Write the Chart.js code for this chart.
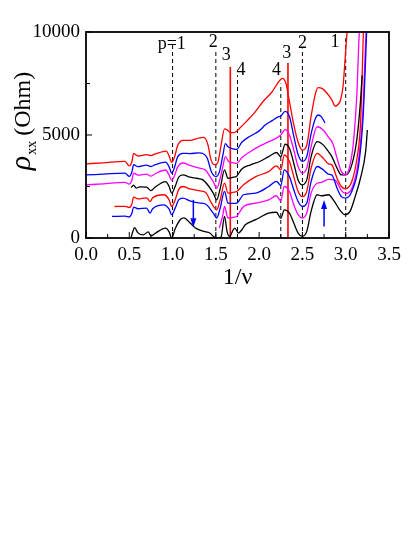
<!DOCTYPE html>
<html>
<head>
<meta charset="utf-8">
<script src="https://cdn.jsdelivr.net/npm/chart.js@4.4.1/dist/chart.umd.min.js"></script>
<style>
  html, body { margin: 0; padding: 0; background: #fff; }
  canvas { display: block; }
</style>
</head>
<body>
<canvas id="chart" width="415" height="537"></canvas>
<script>
// Curves: [1/nu, rho_xx (Ohm)]
const red1 = [[0, 3600], [0.2, 3650], [0.45, 3720], [0.5, 3500], [0.53, 3700], [0.55, 4100], [0.6, 3980], [0.7, 4050], [0.75, 4000], [0.8, 4080], [0.93, 4220], [0.96, 3980], [0.99, 3680], [1.02, 3900], [1.06, 4500], [1.12, 4740], [1.2, 4740], [1.3, 4850], [1.36, 4880], [1.41, 4500], [1.44, 3850], [1.48, 3560], [1.52, 3640], [1.56, 4500], [1.6, 5300], [1.63, 5250], [1.67, 5120], [1.72, 5130], [1.78, 5350], [1.85, 5650], [1.95, 6100], [2.05, 6650], [2.15, 7100], [2.22, 7550], [2.27, 7750], [2.31, 7500], [2.34, 6850], [2.4, 5500], [2.45, 4650], [2.5, 4270], [2.55, 4500], [2.6, 5900], [2.65, 7000], [2.68, 7300], [2.73, 7250], [2.78, 7050], [2.84, 6700], [2.88, 6400], [2.91, 6480], [2.94, 6700], [2.97, 7400], [2.99, 8500], [3.01, 9700], [3.04, 11000]];
const blue1 = [[0, 3060], [0.2, 3100], [0.45, 3150], [0.5, 2990], [0.53, 3200], [0.55, 3560], [0.6, 3460], [0.7, 3540], [0.75, 3470], [0.8, 3560], [0.92, 3680], [0.96, 3450], [0.99, 3150], [1.02, 3400], [1.06, 3950], [1.12, 4110], [1.2, 4100], [1.3, 4130], [1.36, 4080], [1.4, 3880], [1.45, 3200], [1.5, 2980], [1.54, 3200], [1.58, 4000], [1.61, 4580], [1.64, 4430], [1.7, 4330], [1.74, 4300], [1.8, 4650], [1.9, 4950], [2.0, 5200], [2.07, 5480], [2.15, 5700], [2.22, 5880], [2.25, 5920], [2.3, 6150], [2.35, 5900], [2.4, 4950], [2.45, 4050], [2.5, 3720], [2.55, 3950], [2.6, 5050], [2.65, 5800], [2.68, 5970], [2.72, 5880], [2.76, 5580]];
const magenta1 = [[0, 2580], [0.2, 2630], [0.45, 2700], [0.5, 2620], [0.53, 2800], [0.55, 3150], [0.6, 3050], [0.7, 3100], [0.75, 3000], [0.8, 3120], [0.92, 3300], [0.96, 3050], [0.99, 2800], [1.02, 3000], [1.06, 3450], [1.12, 3640], [1.2, 3520], [1.3, 3400], [1.38, 3300], [1.43, 3000], [1.47, 2740], [1.51, 2420], [1.55, 2900], [1.58, 3450], [1.61, 3950], [1.65, 3700], [1.7, 3650], [1.74, 3620], [1.8, 3900], [1.9, 4200], [2.0, 4450], [2.1, 4650], [2.2, 4850], [2.25, 5000], [2.3, 5260], [2.35, 5000], [2.4, 4270], [2.45, 3470], [2.5, 3150], [2.55, 3390], [2.6, 4430], [2.67, 5400], [2.74, 5240], [2.8, 4900], [2.85, 4600], [2.9, 3870], [2.95, 3220], [3.0, 3060], [3.05, 3550], [3.09, 4680], [3.13, 7100], [3.15, 9360], [3.17, 11000]];
const black1 = [[0.52, 2450], [0.55, 2560], [0.58, 2420], [0.62, 2480], [0.7, 2470], [0.75, 2300], [0.8, 2480], [0.92, 2740], [0.96, 2500], [0.99, 2180], [1.03, 2500], [1.07, 2950], [1.12, 3060], [1.2, 2950], [1.28, 2900], [1.35, 2820], [1.42, 2500], [1.47, 2180], [1.51, 1850], [1.55, 2400], [1.6, 3310], [1.64, 2900], [1.7, 2950], [1.74, 3000], [1.8, 3350], [1.9, 3550], [2.0, 3700], [2.11, 3950], [2.2, 4150], [2.25, 3950], [2.3, 4550], [2.35, 4360], [2.4, 3630], [2.45, 2820], [2.5, 2580], [2.55, 2820], [2.6, 3950], [2.67, 4680], [2.74, 4520], [2.8, 4200], [2.84, 3950], [2.9, 3390], [2.95, 3060], [3.0, 3060], [3.07, 3550], [3.13, 4840], [3.17, 6610], [3.19, 7900]];
const red2 = [[0.33, 1530], [0.45, 1540], [0.5, 1480], [0.53, 1650], [0.55, 1980], [0.6, 1900], [0.7, 1950], [0.74, 1770], [0.77, 1950], [0.9, 2100], [0.96, 1850], [0.99, 1530], [1.03, 1850], [1.07, 2350], [1.12, 2500], [1.2, 2380], [1.3, 2300], [1.38, 2220], [1.45, 1690], [1.51, 1370], [1.55, 1850], [1.6, 2660], [1.64, 2180], [1.7, 2220], [1.74, 2260], [1.82, 2580], [1.96, 2980], [2.11, 3220], [2.2, 3500], [2.25, 3300], [2.29, 4030], [2.35, 3710], [2.4, 2980], [2.45, 2260], [2.5, 2010], [2.55, 2260], [2.6, 3390], [2.67, 4110], [2.74, 3870], [2.8, 3600], [2.84, 3550], [2.9, 2900], [2.95, 2500], [3.0, 2390], [3.07, 2740], [3.13, 3870], [3.17, 5480], [3.19, 7900], [3.21, 11000]];
const blue2 = [[0.3, 1050], [0.45, 1060], [0.5, 1020], [0.53, 1200], [0.55, 1500], [0.6, 1420], [0.7, 1450], [0.74, 1210], [0.77, 1420], [0.9, 1610], [0.96, 1400], [0.99, 1130], [1.03, 1450], [1.07, 1850], [1.12, 1940], [1.2, 1800], [1.3, 1700], [1.38, 1650], [1.47, 1210], [1.51, 970], [1.55, 1450], [1.6, 2260], [1.64, 1690], [1.7, 1680], [1.74, 1690], [1.82, 2100], [1.96, 2180], [2.11, 2500], [2.2, 2750], [2.25, 2550], [2.29, 3310], [2.35, 2980], [2.4, 2340], [2.45, 1770], [2.5, 1530], [2.55, 1690], [2.6, 2740], [2.67, 3470], [2.74, 3310], [2.8, 3100], [2.84, 3060], [2.9, 2420], [2.95, 2010], [3.0, 1940], [3.07, 2260], [3.15, 3550], [3.2, 5810], [3.23, 8710], [3.25, 11000]];
const magenta2 = [[1.54, 480], [1.58, 1100], [1.6, 1530], [1.64, 970], [1.7, 1000], [1.74, 1050], [1.82, 1530], [1.96, 1690], [2.11, 1850], [2.2, 2050], [2.25, 1800], [2.29, 2500], [2.35, 2260], [2.4, 1610], [2.45, 1130], [2.5, 970], [2.55, 1210], [2.6, 2180], [2.67, 2660], [2.72, 2700], [2.8, 2850], [2.88, 2800], [2.95, 2300], [3.0, 2150], [3.08, 2500], [3.15, 3870], [3.2, 6290], [3.23, 9520], [3.25, 11000]];
const black2 = [[0.52, 0], [0.54, 300], [0.56, 500], [0.6, 250], [0.66, 150], [0.72, 300], [0.75, 100], [0.8, 230], [0.92, 480], [0.96, 300], [0.99, 0], [1.03, 450], [1.09, 900], [1.13, 980], [1.2, 740], [1.26, 500], [1.36, 320], [1.43, 240], [1.47, 80], [1.5, 0], [1.56, 50], [1.6, 1050], [1.63, 300], [1.66, 80], [1.7, 400], [1.72, 480], [1.76, 240], [1.8, 400], [1.84, 640], [1.96, 890], [2.11, 1210], [2.2, 1250], [2.25, 950], [2.29, 1370], [2.35, 1210], [2.4, 730], [2.45, 240], [2.5, 80], [2.55, 320], [2.6, 1290], [2.67, 2100], [2.72, 2050], [2.8, 2100], [2.87, 1770], [2.93, 1370], [2.99, 1130], [3.05, 1290], [3.11, 2020], [3.17, 2900], [3.23, 4190], [3.25, 5240]];

// Filling-factor markers
const dashX = [1.0, 1.5, 1.75, 2.25, 2.5, 3.0];
const dashTop = [9450, 9100, 7900, 7500, 9200, 9700];
const redLineX = [1.667, 2.333];
const redLineTop = [8300, 8500];
const markText = ['p=1', '2', '3', '4', '4', '3', '2', '1'];
const markX = [0.99, 1.47, 1.62, 1.79, 2.2, 2.32, 2.5, 2.875];
const markY = [9400, 9500, 8850, 8150, 8150, 8950, 9470, 9500];

// Blue arrows: x, start, tip
const arrowX = [1.24, 2.75];
const arrowFrom = [1850, 560];
const arrowTo = [520, 1850];

const xTicks = [0, 0.5, 1.0, 1.5, 2.0, 2.5, 3.0, 3.5];
const yTicks = [0, 5000, 10000];

const serif = "'Liberation Serif', 'DejaVu Serif', serif";
const toPts = arr => arr.map(p => ({ x: p[0], y: p[1] }));

const curves = [
    { data: red1, color: '#ff0000' },
    { data: blue1, color: '#0000ff' },
    { data: magenta1, color: '#ff00ff' },
    { data: black1, color: '#000000' },
    { data: red2, color: '#ff0000' },
    { data: blue2, color: '#0000ff' },
    { data: magenta2, color: '#ff00ff' },
    { data: black2, color: '#000000' }
];

const datasets = curves.map(c => ({
    data: toPts(c.data),
    borderColor: c.color,
    borderWidth: 1.3,
    pointRadius: 0,
    fill: false,
    cubicInterpolationMode: 'monotone'
}));

dashX.forEach((x, i) => datasets.push({
    data: [{ x: x, y: 0 }, { x: x, y: dashTop[i] }],
    borderColor: '#000',
    borderWidth: 1,
    borderDash: [4, 3],
    pointRadius: 0
}));

redLineX.forEach((x, i) => datasets.push({
    data: [{ x: x, y: 0 }, { x: x, y: redLineTop[i] }],
    borderColor: '#ff0000',
    borderWidth: 1.6,
    pointRadius: 0
}));

// Frame, inward ticks, marker labels, arrows and axis titles
const overlay = {
    id: 'overlay',
    afterDatasetsDraw(chart) {
        const { ctx, chartArea: a, scales: { x, y } } = chart;
        ctx.save();
        ctx.strokeStyle = '#000';
        ctx.lineWidth = 1.8;
        ctx.strokeRect(a.left, a.top, a.right - a.left, a.bottom - a.top);

        ctx.lineWidth = 1;
        ctx.beginPath();
        for (let i = 0; i <= 14; i++) {
            const px = x.getPixelForValue(i * 0.25);
            const len = i % 2 === 0 ? 6 : 4;
            ctx.moveTo(px, a.bottom);
            ctx.lineTo(px, a.bottom - len);
        }
        for (let i = 0; i <= 4; i++) {
            const py = y.getPixelForValue(i * 2500);
            const len = i % 2 === 0 ? 6 : 4;
            ctx.moveTo(a.left, py);
            ctx.lineTo(a.left + len, py);
        }
        ctx.stroke();

        // p labels
        ctx.fillStyle = '#000';
        ctx.font = '18px ' + serif;
        ctx.textAlign = 'center';
        ctx.textBaseline = 'middle';
        markText.forEach((t, i) => {
            ctx.fillText(t, x.getPixelForValue(markX[i]), y.getPixelForValue(markY[i]));
        });

        // arrows
        ctx.strokeStyle = '#0000ff';
        ctx.fillStyle = '#0000ff';
        ctx.lineWidth = 1.5;
        arrowX.forEach((ax, i) => {
            const px = x.getPixelForValue(ax);
            const y0 = y.getPixelForValue(arrowFrom[i]);
            const y1 = y.getPixelForValue(arrowTo[i]);
            const dir = y1 > y0 ? 1 : -1;
            ctx.beginPath();
            ctx.moveTo(px, y0);
            ctx.lineTo(px, y1 - dir * 6);
            ctx.stroke();
            ctx.beginPath();
            ctx.moveTo(px, y1);
            ctx.lineTo(px - 3, y1 - dir * 9);
            ctx.lineTo(px + 3, y1 - dir * 9);
            ctx.closePath();
            ctx.fill();
        });

        // x title
        ctx.fillStyle = '#000';
        ctx.font = '24px ' + serif;
        ctx.textAlign = 'center';
        ctx.textBaseline = 'middle';
        ctx.fillText('1/ν', (a.left + a.right) / 2, 278);

        // y title: rho_xx (Ohm), rotated
        ctx.translate(30, 121);
        ctx.rotate(-Math.PI / 2);
        ctx.textAlign = 'left';
        ctx.textBaseline = 'alphabetic';
        const fRho = 'italic 30px ' + serif;
        const fSub = '14px ' + serif;
        const fUnit = '24px ' + serif;
        ctx.font = fRho; const wRho = ctx.measureText('ρ').width;
        ctx.font = fSub; const wSub = ctx.measureText('xx').width;
        ctx.font = fUnit; const wUnit = ctx.measureText(' (Ohm)').width;
        let cx = -(wRho + wSub + wUnit) / 2;
        ctx.font = fRho; ctx.fillText('ρ', cx, 0); cx += wRho + 1;
        ctx.font = fSub; ctx.fillText('xx', cx, 6); cx += wSub - 1;
        ctx.font = fUnit; ctx.fillText(' (Ohm)', cx, 0);
        ctx.restore();
    }
};

new Chart(document.getElementById('chart'), {
    type: 'line',
    data: { datasets: datasets },
    plugins: [overlay],
    options: {
        responsive: false,
        animation: false,
        layout: { padding: { top: 32, right: 26, left: 0, bottom: 0 } },
        plugins: { legend: { display: false }, tooltip: { enabled: false } },
        scales: {
            x: {
                type: 'linear',
                min: 0,
                max: 3.5,
                afterBuildTicks: s => { s.ticks = xTicks.map(v => ({ value: v })); },
                afterFit: s => { s.height = 299; },
                grid: { display: false, drawTicks: false },
                border: { display: false },
                ticks: {
                    padding: 6,
                    maxRotation: 0,
                    color: '#000',
                    font: { family: serif, size: 19 },
                    callback: v => v.toFixed(1)
                }
            },
            y: {
                type: 'linear',
                min: 0,
                max: 10000,
                afterBuildTicks: s => { s.ticks = yTicks.map(v => ({ value: v })); },
                afterFit: s => { s.width = 86; },
                grid: { display: false, drawTicks: false },
                border: { display: false },
                ticks: {
                    padding: 6,
                    color: '#000',
                    font: { family: serif, size: 19 },
                    callback: v => String(v)
                }
            }
        }
    }
});
</script>
</body>
</html>
